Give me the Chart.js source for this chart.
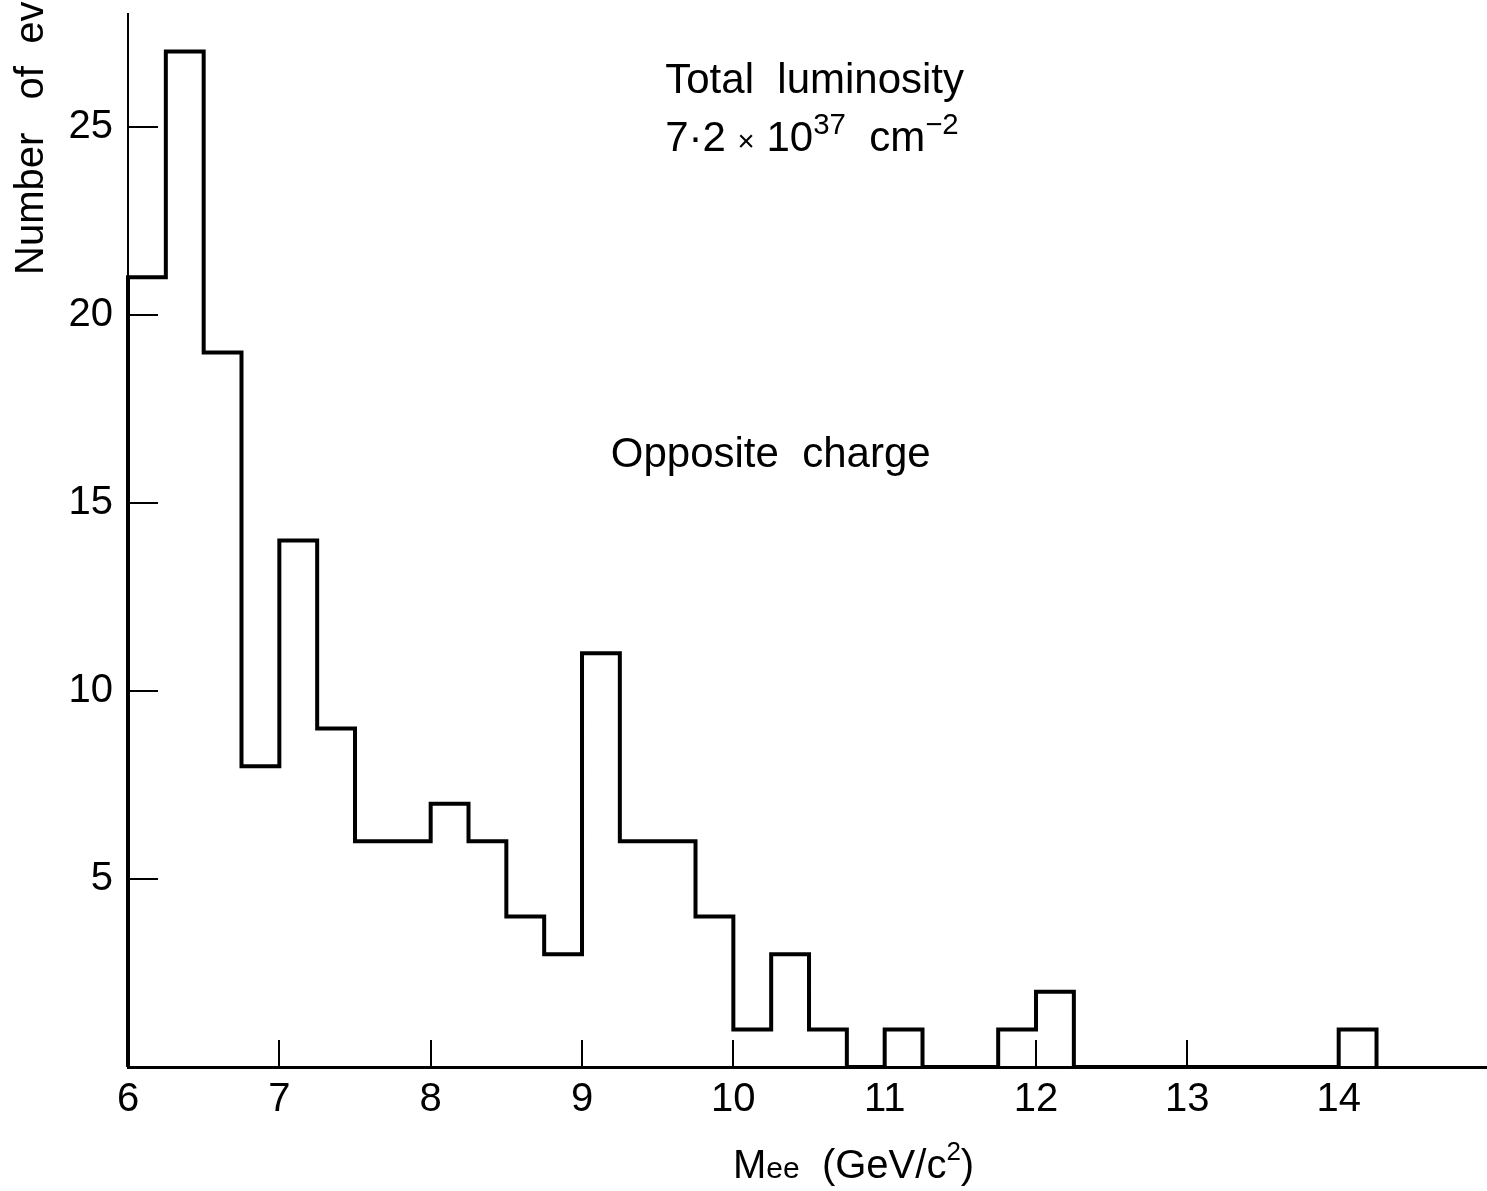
<!DOCTYPE html>
<html lang="en">
<head>
    <meta charset="UTF-8">
    <title>Mee histogram</title>
    <script src="https://cdn.jsdelivr.net/npm/chart.js"></script>
    <style>
        body { margin: 0; background: #fff; }
        #wrap { width: 1487px; height: 1191px; position: relative; }
    </style>
</head>
<body>
    <div id="wrap"><canvas id="myChart"></canvas></div>

<script>
// bin edges (GeV/c^2), one more edge than counts
var binEdges = [6.0, 6.25, 6.5, 6.75, 7.0, 7.25, 7.5, 7.75, 8.0, 8.25, 8.5, 8.75,
                9.0, 9.25, 9.5, 9.75, 10.0, 10.25, 10.5, 10.75, 11.0, 11.25, 11.5, 11.75,
                12.0, 12.25, 12.5, 12.75, 13.0, 13.25, 13.5, 13.75, 14.0, 14.25];
// number of events per bin
var counts = [21, 27, 19, 8, 14, 9, 6, 6, 7, 6, 4, 3,
              11, 6, 6, 4, 1, 3, 1, 0, 1, 0, 0, 1,
              2, 0, 0, 0, 0, 0, 0, 0, 1];
var xTicks = [6, 7, 8, 9, 10, 11, 12, 13, 14];
var yTicks = [5, 10, 15, 20, 25];

var FONT = "'Liberation Sans', Arial, sans-serif";

// outline of the histogram, step-before
var points = [{x: binEdges[0], y: 0}];
for (var i = 0; i < counts.length; i++) {
    points.push({x: binEdges[i], y: counts[i]});
}
points.push({x: binEdges[binEdges.length - 1], y: 0});

// draw a row of text pieces, some raised or lowered
function drawRuns(ctx, x, y, runs, size) {
    var cx = x;
    runs.forEach(function (r) {
        var s = size * (r.scale || 1);
        ctx.font = s + 'px ' + FONT;
        ctx.fillText(r.text, cx, y + (r.dy || 0) * size);
        cx += ctx.measureText(r.text).width;
    });
}

var textPlugin = {
    id: 'texts',
    afterDraw: function (chart) {
        var ctx = chart.ctx;
        var xs = chart.scales.x, ys = chart.scales.y;
        var area = chart.chartArea;
        ctx.save();
        ctx.fillStyle = '#000';
        ctx.textBaseline = 'alphabetic';
        ctx.textAlign = 'left';

        drawRuns(ctx, xs.getPixelForValue(9.55), ys.getPixelForValue(25.9),
            [{text: 'Total  luminosity'}], 42);
        drawRuns(ctx, xs.getPixelForValue(9.55), ys.getPixelForValue(24.35), [
            {text: '7·2 '},
            {text: '×', scale: 0.7},
            {text: ' 10'},
            {text: '37', scale: 0.7, dy: -0.42},
            {text: '  cm'},
            {text: '−2', scale: 0.7, dy: -0.42}
        ], 42);
        drawRuns(ctx, xs.getPixelForValue(9.19), ys.getPixelForValue(15.95),
            [{text: 'Opposite  charge'}], 42);

        // x axis title
        drawRuns(ctx, 733, 1178, [
            {text: 'M'},
            {text: 'ee', scale: 0.75},
            {text: '  (GeV/c'},
            {text: '2', scale: 0.65, dy: -0.45},
            {text: ')'}
        ], 40);

        // y axis title, runs off the top
        ctx.translate(area.left - 85, 275);
        ctx.rotate(-Math.PI / 2);
        drawRuns(ctx, 0, 0, [{text: 'Number   of  events'}], 40);
        ctx.restore();
    }
};

var config = {
    type: 'line',
    data: {
        datasets: [{
            data: points,
            stepped: 'before',
            borderColor: '#000',
            borderWidth: 4,
            borderJoinStyle: 'miter',
            pointRadius: 0,
            fill: false,
            clip: false
        }]
    },
    options: {
        responsive: true,
        maintainAspectRatio: false,
        animation: false,
        layout: { padding: { top: 14, left: 0, right: 0, bottom: 0 } },
        plugins: { legend: { display: false }, tooltip: { enabled: false } },
        scales: {
            x: {
                type: 'linear',
                min: 6,
                max: 14.98,
                afterFit: function (s) {
                    s.height = 124;
                    s.paddingLeft = 0;
                    s.paddingRight = 0;
                },
                afterBuildTicks: function (s) { s.ticks = xTicks.map(function (v) { return {value: v}; }); },
                grid: { drawOnChartArea: false, tickLength: -27, color: '#000', lineWidth: 2 },
                border: { display: true, color: '#000', width: 3 },
                ticks: { autoSkip: false, maxRotation: 0, padding: 36, color: '#000',
                         font: { family: FONT, size: 40 } }
            },
            y: {
                type: 'linear',
                min: 0,
                max: 28,
                afterFit: function (s) {
                    s.width = 128;
                    s.paddingTop = 0;
                    s.paddingBottom = 0;
                },
                afterBuildTicks: function (s) { s.ticks = yTicks.map(function (v) { return {value: v}; }); },
                grid: { drawOnChartArea: false, tickLength: -30, color: '#000', lineWidth: 2 },
                border: { display: true, color: '#000', width: 2 },
                ticks: { padding: 45, color: '#000', font: { family: FONT, size: 40 } }
            }
        }
    },
    plugins: [textPlugin]
};

var myChart = new Chart(document.getElementById('myChart'), config);
</script>
</body>
</html>
